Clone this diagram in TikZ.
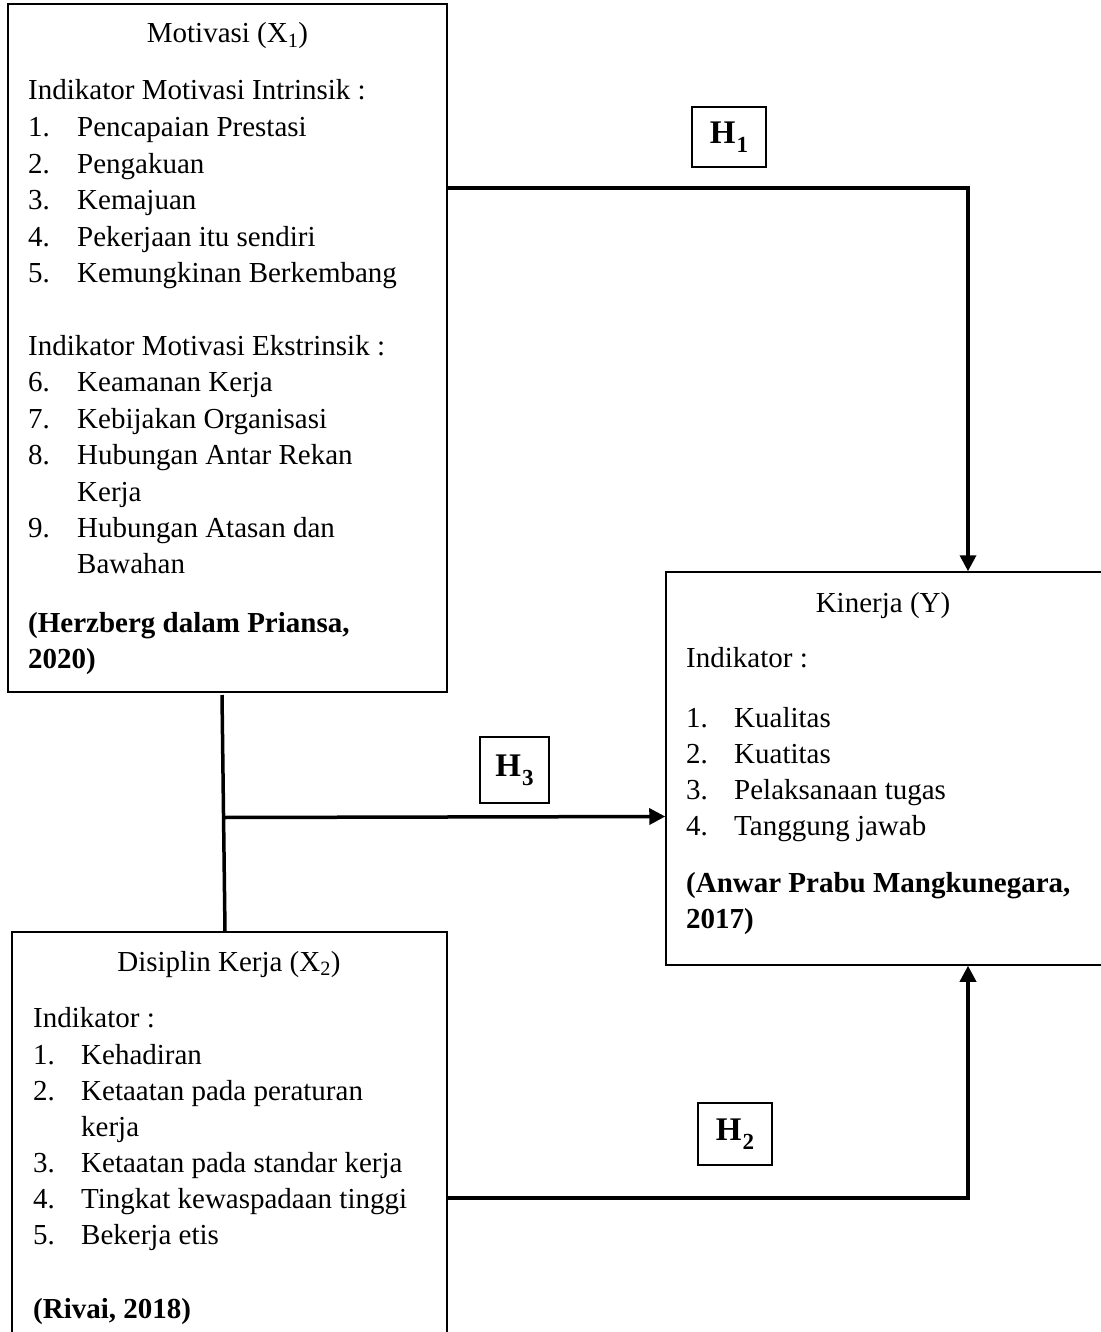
\documentclass[tikz,border=0pt]{standalone}
\usepackage{fontspec}
\setmainfont{Liberation Serif}
\usetikzlibrary{arrows.meta}
\newcommand{\hyplabel}[1]{\textbf{H}\kern1pt\raisebox{-0.28em}{\fontsize{23}{23}\selectfont\textbf{#1}}}
\begin{document}
\begin{tikzpicture}[x=1pt,y=-1pt,
  box/.style={draw=black,line width=1.5pt,rectangle,inner sep=0pt},
  hbox/.style={draw=black,line width=2pt,rectangle,inner sep=0pt,font=\fontsize{33}{36}\selectfont},
  txt/.style={anchor=base west,inner sep=0pt,font=\fontsize{29}{36}\selectfont},
  ttl/.style={anchor=base,inner sep=0pt,font=\fontsize{29}{36}\selectfont},
  conn/.style={line width=3.5pt},
  arr/.style={line width=3.5pt,-{Triangle[length=16pt,width=16pt]}}]
\fill[white] (0,0) rectangle (1100,1332);
\useasboundingbox (0,0) rectangle (1100,1332);

% boxes
\node[box,minimum width=439pt,minimum height=688pt] (mot) at (227.5,348) {};
\node[box,minimum width=435.5pt,minimum height=393pt] (kin) at (883.75,768.5) {};
\node[box,minimum width=435pt,minimum height=413pt] (dis) at (229.5,1138.5) {};

% Motivasi text
\node[ttl] (m0) at (227.5,43) {Motivasi (X\textsubscript{1})};
\node[txt] (m1) at (28,100) {Indikator Motivasi Intrinsik :};
\node[txt] (m2n) at (28,137) {1.}; \node[txt] (m2) at (77,137) {Pencapaian Prestasi};
\node[txt] (m3n) at (28,173.4) {2.}; \node[txt] (m3) at (77,173.4) {Pengakuan};
\node[txt] (m4n) at (28,209.8) {3.}; \node[txt] (m4) at (77,209.8) {Kemajuan};
\node[txt] (m5n) at (28,246.2) {4.}; \node[txt] (m5) at (77,246.2) {Pekerjaan itu sendiri};
\node[txt] (m6n) at (28,282.6) {5.}; \node[txt] (m6) at (77,282.6) {Kemungkinan Berkembang};
\node[txt] (m7) at (28,355.4) {Indikator Motivasi Ekstrinsik :};
\node[txt] (m8n) at (28,391.8) {6.}; \node[txt] (m8) at (77,391.8) {Keamanan Kerja};
\node[txt] (m9n) at (28,428.2) {7.}; \node[txt] (m9) at (77,428.2) {Kebijakan Organisasi};
\node[txt] (m10n) at (28,464.6) {8.}; \node[txt] (m10) at (77,464.6) {Hubungan Antar Rekan};
\node[txt] (m11) at (77,501) {Kerja};
\node[txt] (m12n) at (28,537.4) {9.}; \node[txt] (m12) at (77,537.4) {Hubungan Atasan dan};
\node[txt] (m13) at (77,573.8) {Bawahan};
\node[txt,font=\fontsize{29}{36}\selectfont\bfseries] (m14) at (28,632) {(Herzberg dalam Priansa,};
\node[txt,font=\fontsize{29}{36}\selectfont\bfseries] (m15) at (28,668) {2020)};

% Kinerja text
\node[ttl] (k0) at (883,612) {Kinerja (Y)};
\node[txt] (k1) at (686,667) {Indikator :};
\node[txt] (k2n) at (686,727) {1.}; \node[txt] (k2) at (734,727) {Kualitas};
\node[txt] (k3n) at (686,763) {2.}; \node[txt] (k3) at (734,763) {Kuatitas};
\node[txt] (k4n) at (686,799) {3.}; \node[txt] (k4) at (734,799) {Pelaksanaan tugas};
\node[txt] (k5n) at (686,835) {4.}; \node[txt] (k5) at (734,835) {Tanggung jawab};
\node[txt,font=\fontsize{29}{36}\selectfont\bfseries] (k6) at (686,892) {(Anwar Prabu Mangkunegara,};
\node[txt,font=\fontsize{29}{36}\selectfont\bfseries] (k7) at (686,928) {2017)};

% Disiplin text
\node[ttl] (d0) at (229,971) {Disiplin Kerja (X\textsubscript{2})};
\node[txt] (d1) at (33,1027) {Indikator :};
\node[txt] (d2n) at (33,1064) {1.}; \node[txt] (d2) at (81,1064) {Kehadiran};
\node[txt] (d3n) at (33,1100) {2.}; \node[txt] (d3) at (81,1100) {Ketaatan pada peraturan};
\node[txt] (d4) at (81,1136) {kerja};
\node[txt] (d5n) at (33,1172) {3.}; \node[txt] (d5) at (81,1172) {Ketaatan pada standar kerja};
\node[txt] (d6n) at (33,1208) {4.}; \node[txt] (d6) at (81,1208) {Tingkat kewaspadaan tinggi};
\node[txt] (d7n) at (33,1244) {5.}; \node[txt] (d7) at (81,1244) {Bekerja etis};
\node[txt,font=\fontsize{29}{36}\selectfont\bfseries] (d8) at (33,1318) {(Rivai, 2018)};

% hypothesis labels
\node[hbox,minimum width=74pt,minimum height=60pt] (h1) at (729,137) {\hyplabel{1}};
\node[hbox,minimum width=69pt,minimum height=66pt] (h3) at (514.5,770) {\hyplabel{3}};
\node[hbox,minimum width=74pt,minimum height=62pt] (h2) at (735,1134) {\hyplabel{2}};

% connectors
\coordinate (vtop) at (222,695);
\coordinate (vmid) at (222.5,817.5);
\draw[conn] (vtop) -- (225,0 |- dis.north);
\draw[arr] (vmid) -- (kin.west |- 0,816.5);
\draw[arr] (mot.east |- 0,188) -| (968,0 |- kin.north);
\draw[arr] (dis.east |- 0,1198) -| (968,0 |- kin.south);
\end{tikzpicture}
\end{document}
